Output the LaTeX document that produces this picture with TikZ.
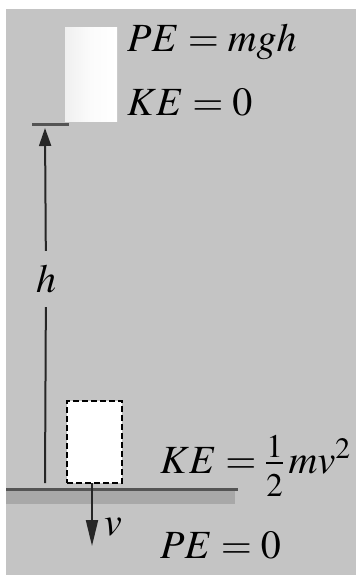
\documentclass[tikz,border=0pt]{standalone}
\usepackage{mathptmx}
\usetikzlibrary{arrows.meta}

\definecolor{bggray}{gray}{0.77}
\definecolor{linegray}{gray}{0.33}
\definecolor{bandgray}{gray}{0.66}
\tikzset{
  eqn/.style={anchor=base west, inner sep=0pt, font=\fontsize{40}{44}\selectfont},
  hline/.style={draw=linegray, line width=3pt},
  arrowline/.style={draw=black!85, line width=2pt},
}
\newcommand{\bignum}[1]{\mbox{\fontsize{33}{33}\selectfont$#1$}}

\begin{document}
\begin{tikzpicture}[x={1pt},y={-1pt}]
\useasboundingbox (0,0) rectangle (356,578);
\fill[bggray] (6,9) rectangle (356,575);

\fill[bandgray] (6,491) rectangle (235,504);
\coordinate (G1) at (6,489);
\coordinate (G2) at (238,489);
\draw[hline] (G1) -- (G2);

\coordinate (T1) at (32,124);
\coordinate (T2) at (69,124);
\draw[hline] (T1) -- (T2);

\node [inner sep=0pt, minimum width=52pt, minimum height=93pt,
       left color=gray!12, right color=white, middle color=white!97!gray] (topbox) at (91,74.5) {};
\node [draw, dash pattern=on 6pt off 3pt, line width=1.5pt, fill=white, inner sep=0pt,
       minimum width=55pt, minimum height=82pt] (botbox) at (94.5,442) {};

\node [eqn] (petop) at (127,52) {$PE = mgh$};
\node [eqn] (ketop) at (127,115) {$KE = 0$};
\node [eqn] (kebot) at (160,473) {$KE = \frac{\bignum{1}}{\bignum{\rule{0pt}{31pt}2}}\,mv^2$};
\node [eqn] (pebot) at (160,558) {$PE = 0$};

\coordinate (hbot) at (45,483);
\coordinate (htop) at (45,128);
\node [font=\fontsize{40}{44}\selectfont, inner xsep=0pt, inner ysep=14pt] (h) at (46,279) {$h$};
\draw[arrowline] (hbot) -- (h);
\draw[arrowline, -{Triangle[length=18pt,width=12pt]}] (h) -- (htop);

\coordinate (vtop) at (92,483);
\coordinate (vtip) at (92,546);
\draw[arrowline, -{Triangle[length=26pt,width=12pt]}] (vtop) -- (vtip);
\node [eqn] (v) at (104,535) {$v$};

\end{tikzpicture}
\end{document}
